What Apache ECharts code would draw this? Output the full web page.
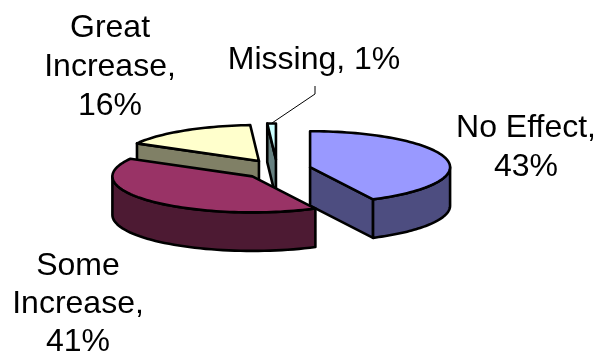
<!DOCTYPE html>
<html>
<head>
<meta charset="utf-8">
<style>html,body{margin:0;padding:0;background:#fff}#chart{width:597px;height:354px}</style>
<script src="https://cdn.jsdelivr.net/npm/echarts@6/dist/echarts.min.js"></script>
</head>
<body>
<div id="chart"></div>
<script>
// Survey responses, in clockwise order from twelve o'clock
const categories = ['No Effect', 'Some Increase', 'Great Increase', 'Missing'];
const percents = [43, 41, 16, 1];
const topColors = ['#9999FF', '#993366', '#FFFFCC', '#CCFFFF'];
const sideColors = ['#4D4D80', '#4D1A33', '#808066', '#668080'];
// Painter's order: slices further back come first
const paintRank = [2, 3, 1, 0];

// Tilted-disc layout
const disc = { cx: 277, cy: 169.5, rx: 140, ry: 36, depth: 38.5, popX: 34, popY: 10 };
const STROKE = 2.6;
const labelBoxes = [
  { x: 526, y: 147.5, lineHeight: 39, wrap: ', ' },
  { x: 78, y: 304, lineHeight: 38, wrap: ' |, ' },
  { x: 110, y: 67, lineHeight: 39, wrap: ' |, ' },
  { x: 314, y: 60, lineHeight: 38, wrap: null }
];

const total = percents.reduce((a, b) => a + b, 0);
const toAngle = (v) => echarts.number.linearMap(v, [0, total], [0, Math.PI * 2]);

function labelText(i) {
  const text = categories[i] + ', ' + percents[i] + '%';
  const wrap = labelBoxes[i].wrap;
  if (!wrap) return text;
  return wrap.split('|').reduce((t, sep) => t.split(sep).join(sep.trim() + '\n'), text);
}

function renderSlice(params, api) {
  const i = api.value(1);
  const before = percents.slice(0, i).reduce((a, b) => a + b, 0);
  const a0 = toAngle(before);
  const a1 = toAngle(before + api.value(0));
  const mid = (a0 + a1) / 2;
  const cx = disc.cx + Math.sin(mid) * disc.popX;
  const cy = disc.cy - Math.cos(mid) * disc.popY;
  const rim = (a, drop) => [cx + Math.sin(a) * disc.rx, cy - Math.cos(a) * disc.ry + (drop || 0)];
  const base = paintRank[i] * 10 + 1;
  const poly = (points, fill, z2) => ({
    type: 'polygon', z2: base + z2,
    shape: { points },
    style: { fill, stroke: '#000', lineWidth: STROKE, lineJoin: 'round' }
  });
  const children = [];

  // Cut faces that turn toward the viewer
  [[a0, -1], [a1, 1]].forEach(([a, side]) => {
    if (side * -Math.sin(a) < -1e-6) {
      children.push(poly([[cx, cy], rim(a), rim(a, disc.depth), [cx, cy + disc.depth]], sideColors[i], 0));
    }
  });

  // Outer wall: the part of the rim on the near half of the disc
  const from = Math.max(a0, Math.PI / 2);
  const to = Math.min(a1, Math.PI * 1.5);
  if (to > from) {
    const upper = [], lower = [];
    for (let k = 0; k <= 48; k++) {
      const a = from + (to - from) * k / 48;
      upper.push(rim(a));
      lower.unshift(rim(a, disc.depth));
    }
    children.push(poly(upper.concat(lower), sideColors[i], 1));
  }

  // Top face
  const top = [[cx, cy]];
  const steps = Math.max(2, Math.ceil((a1 - a0) * 30));
  for (let k = 0; k <= steps; k++) top.push(rim(a0 + (a1 - a0) * k / steps));
  children.push(poly(top, topColors[i], 2));

  return { type: 'group', children };
}

function renderLabel(params, api) {
  const i = api.value(1);
  const box = labelBoxes[i];
  return {
    type: 'text', z2: 100,
    style: {
      x: box.x, y: box.y, text: labelText(i), align: 'center', verticalAlign: 'middle',
      font: '32px "Liberation Sans", Arial, sans-serif', lineHeight: box.lineHeight, fill: '#000'
    }
  };
}

const chart = echarts.init(document.getElementById('chart'), null, { renderer: 'canvas' });
const rows = percents.map((v, i) => [v, i]);
chart.setOption({
  animation: false,
  backgroundColor: '#fff',
  series: [
    { type: 'custom', coordinateSystem: 'none', silent: true, data: rows, renderItem: renderSlice, z: 2 },
    { type: 'custom', coordinateSystem: 'none', silent: true, data: rows, renderItem: renderLabel, z: 4 }
  ],
  graphic: [{
    type: 'polyline', z: 3, silent: true,
    shape: { points: [[272, 123], [315, 94], [315, 86]] },
    style: { stroke: '#000', lineWidth: 1, fill: 'none' }
  }]
});
</script>
</body>
</html>
